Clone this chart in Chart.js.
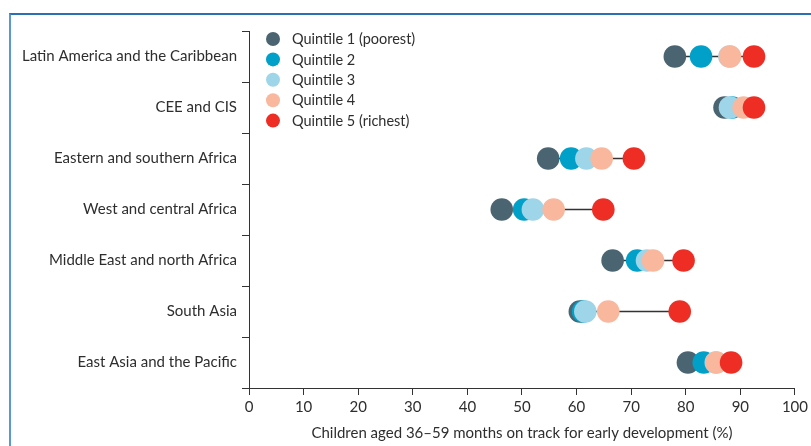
<!DOCTYPE html>
<html>
<head>
<meta charset="utf-8">
<script src="https://cdn.jsdelivr.net/npm/chart.js@4.4.1/dist/chart.umd.min.js"></script>
<style>
  html, body { margin: 0; padding: 0; background: #ffffff; }
  #wrap { position: relative; width: 811px; height: 446px; overflow: hidden; }
  #frame { position: absolute; left: 9px; top: 13px; right: -10px; bottom: -10px;
           border-top: 2px solid #2b6fb6; border-left: 2px solid #5b97d2; }
  #c { position: absolute; left: 0; top: 0; }
</style>
</head>
<body>
<div id="wrap">
  <div id="frame"></div>
  <canvas id="c" width="811" height="446"></canvas>
</div>
<script>
const categories = [
  "Latin America and the Caribbean",
  "CEE and CIS",
  "Eastern and southern Africa",
  "West and central Africa",
  "Middle East and north Africa",
  "South Asia",
  "East Asia and the Pacific"
];
const seriesNames = ["Quintile 1 (poorest)", "Quintile 2", "Quintile 3", "Quintile 4", "Quintile 5 (richest)"];
const seriesColors = ["#4a6571", "#00a0c8", "#9ed5e8", "#f9b89e", "#ee2d24"];
const q1 = [78.0, 87.1, 54.8, 46.3, 66.6, 60.6, 80.4];
const q2 = [82.8, 88.5, 59.0, 50.4, 71.1, 61.2, 83.3];
const q3 = [88.0, 88.1, 61.8, 52.0, 72.9, 61.6, 85.5];
const q4 = [88.1, 90.6, 64.6, 55.8, 74.0, 65.8, 85.6];
const q5 = [92.5, 92.5, 70.5, 64.9, 79.6, 78.9, 88.3];
const xTicks = [0, 10, 20, 30, 40, 50, 60, 70, 80, 90, 100];
const xTitle = "Children aged 36\u201359 months on track for early development (%)";

const allSeries = [q1, q2, q3, q4, q5];
const FONT = "Lato, 'Open Sans', sans-serif";
const TEXT = "#2e2e2e";

const datasets = [];
categories.forEach((cat, i) => {
  const vals = allSeries.map(s => s[i]);
  datasets.push({
    type: "line",
    label: "_range" + i,
    data: [{x: Math.min(...vals), y: cat}, {x: Math.max(...vals), y: cat}],
    borderColor: "#333333",
    borderWidth: 1.6,
    pointRadius: 0,
    order: 20
  });
});
allSeries.forEach((s, k) => {
  datasets.push({
    type: "scatter",
    label: seriesNames[k],
    data: s.map((v, i) => ({x: v, y: categories[i]})),
    backgroundColor: seriesColors[k],
    borderWidth: 0,
    pointRadius: 11.3,
    pointHoverRadius: 11.3,
    order: 10 - k
  });
});

const legendPlugin = {
  id: "insideLegend",
  afterDatasetsDraw(chart) {
    const ctx = chart.ctx;
    const x0 = chart.chartArea.left + 24;
    const y0 = chart.chartArea.top + 8;
    ctx.save();
    ctx.font = "14.5px " + FONT;
    ctx.textBaseline = "middle";
    ctx.textAlign = "left";
    seriesNames.forEach((name, k) => {
      const y = y0 + k * 20.4;
      ctx.beginPath();
      ctx.arc(x0, y, 7, 0, Math.PI * 2);
      ctx.fillStyle = seriesColors[k];
      ctx.fill();
      ctx.fillStyle = TEXT;
      ctx.fillText(name, x0 + 19, y + 0.5);
    });
    ctx.restore();
  }
};

new Chart(document.getElementById("c"), {
  type: "scatter",
  data: { labels: categories, datasets: datasets },
  plugins: [legendPlugin],
  options: {
    responsive: false,
    animation: false,
    events: [],
    layout: { padding: { top: 31, right: 15, left: 0, bottom: 0 } },
    plugins: { legend: { display: false }, tooltip: { enabled: false } },
    scales: {
      x: {
        type: "linear",
        min: 0, max: 100,
        afterBuildTicks(scale) { scale.ticks = xTicks.map(v => ({value: v})); },
        afterFit(scale) { scale.height = 58; },
        border: { display: true, color: "#333333", width: 1 },
        grid: { drawOnChartArea: false, drawTicks: true, tickLength: 7, color: "#333333", tickColor: "#333333" },
        ticks: { color: TEXT, font: { family: FONT, size: 15 }, padding: 3, maxRotation: 0, autoSkip: false },
        title: { display: true, text: xTitle, color: TEXT, font: { family: FONT, size: 15 }, padding: { top: 2, bottom: 4 } }
      },
      y: {
        type: "category",
        labels: categories,
        offset: true,
        afterFit(scale) { scale.width = 249; },
        border: { display: true, color: "#333333", width: 1 },
        grid: { offset: true, drawOnChartArea: false, drawTicks: true, tickLength: 7, color: "#333333", tickColor: "#333333" },
        ticks: { color: TEXT, font: { family: FONT, size: 15 }, padding: 5, autoSkip: false }
      }
    }
  }
});
</script>
</body>
</html>
